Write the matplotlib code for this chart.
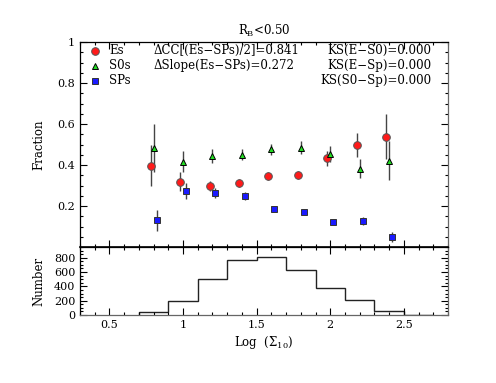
import matplotlib
matplotlib.use("Agg")
import matplotlib.pyplot as plt
from matplotlib.ticker import MultipleLocator
import numpy as np

plt.rcParams['font.family'] = ['DejaVu Serif']
plt.rcParams['mathtext.fontset'] = 'dejavuserif'

# Data
es_x = [0.78, 0.98, 1.18, 1.38, 1.58, 1.78, 1.98, 2.18, 2.38]
es_y = [0.397, 0.319, 0.298, 0.311, 0.348, 0.350, 0.432, 0.498, 0.537]
es_err = [0.10, 0.045, 0.025, 0.02, 0.02, 0.02, 0.035, 0.057, 0.11]

s0_x = [0.80, 1.00, 1.20, 1.40, 1.60, 1.80, 2.00, 2.20, 2.40]
s0_y = [0.482, 0.416, 0.445, 0.451, 0.476, 0.485, 0.455, 0.382, 0.421]
s0_err = [0.117, 0.05, 0.034, 0.025, 0.025, 0.03, 0.04, 0.047, 0.095]

sp_x = [0.82, 1.02, 1.22, 1.42, 1.62, 1.82, 2.02, 2.22, 2.42]
sp_y = [0.130, 0.273, 0.265, 0.248, 0.186, 0.171, 0.120, 0.125, 0.047]
sp_err = [0.052, 0.039, 0.025, 0.018, 0.012, 0.012, 0.012, 0.02, 0.025]

hist_edges = [0.7, 0.9, 1.1, 1.3, 1.5, 1.7, 1.9, 2.1, 2.3, 2.5, 2.7]
hist_counts = [40, 195, 500, 775, 815, 630, 380, 205, 55, 5]

legend_labels = ['Es', 'S0s', 'SPs']
stats_left = ['ΔCC[(Es−SPs)/2]=0.841', 'ΔSlope(Es−SPs)=0.272']
stats_right = ['KS(E−S0)=0.000', 'KS(E−Sp)=0.000', 'KS(S0−Sp)=0.000']

fig = plt.figure(figsize=(4.96, 3.83), dpi=100)
W, H = 496, 383
ax = fig.add_axes([80/W, 1-247/H, (448-80)/W, (247-42)/H])
axb = fig.add_axes([80/W, 1-315/H, (448-80)/W, (315-247)/H], sharex=ax)

ecol = '#444444'
styles = [dict(marker='o', ms=5.5, mfc='#ff1a1a', mec='#555555'),
          dict(marker='^', ms=4.5, mfc='#22dd22', mec='black'),
          dict(marker='s', ms=4.2, mfc='#1a1aff', mec='#333333')]
for (xs, ys, es), st in zip([(es_x, es_y, es_err), (s0_x, s0_y, s0_err), (sp_x, sp_y, sp_err)], styles):
    ax.errorbar(xs, ys, yerr=es, fmt=st['marker'], ms=st['ms'], mfc=st['mfc'], mec=st['mec'],
                mew=0.7, ecolor=ecol, elinewidth=1, capsize=0)

ax.set_xlim(0.3, 2.8)
ax.set_ylim(0, 1)
ax.yaxis.set_minor_locator(MultipleLocator(0.05))
ax.xaxis.set_major_locator(MultipleLocator(0.5))
ax.xaxis.set_minor_locator(MultipleLocator(0.1))
ax.set_yticks([0.2, 0.4, 0.6, 0.8, 1.0])
ax.set_yticklabels(['0.2', '0.4', '0.6', '0.8', '1'])
ax.tick_params(axis='x', labelbottom=False)
ax.set_ylabel('Fraction', fontsize=8.5)
ax.yaxis.set_label_coords(-0.095, 0.5)
ax.set_title(r'R$_{\rm B}$<0.50', fontsize=8.5, pad=5)

# legend-like annotations
fs = 8.5
rows = [0.957, 0.884, 0.811]
for yy, lab, st in zip(rows, legend_labels, styles):
    ax.plot([0.405], [yy], linestyle='none', marker=st['marker'], ms=st['ms'], mfc=st['mfc'],
            mec=st['mec'], mew=0.7, clip_on=False)
    ax.text(0.50, yy, lab, fontsize=fs, va='center')
for yy, t in zip(rows, stats_left):
    ax.text(0.80, yy, t, fontsize=fs, va='center')
for yy, t in zip(rows, stats_right):
    ax.text(2.69, yy, t, fontsize=fs, va='center', ha='right')

axb.stairs(hist_counts, hist_edges, color='#222222', lw=1, baseline=0)
axb.set_ylim(0, 950)
axb.yaxis.set_major_locator(MultipleLocator(200))
axb.yaxis.set_minor_locator(MultipleLocator(50))
axb.set_xlabel(r'Log  ($\Sigma_{10}$)', fontsize=8.5, labelpad=3)
axb.set_ylabel('Number', fontsize=8.5)
axb.yaxis.set_label_coords(-0.095, 0.5)
axb.set_xticks([0.5, 1, 1.5, 2, 2.5])
axb.set_xticklabels(['0.5', '1', '1.5', '2', '2.5'])

for a in (ax, axb):
    a.tick_params(which='both', direction='in', top=True, right=True, labelsize=8, width=0.8)
    a.tick_params(which='major', length=5)
    a.tick_params(which='minor', length=2.5)
    for sp in a.spines.values():
        sp.set_linewidth(0.9)
ax.spines['bottom'].set_linewidth(1.2)
axb.spines['bottom'].set_color('#666666')
axb.spines['right'].set_color('#666666')
ax.spines['right'].set_color('#666666')

fig.savefig('out.png', dpi=100)
